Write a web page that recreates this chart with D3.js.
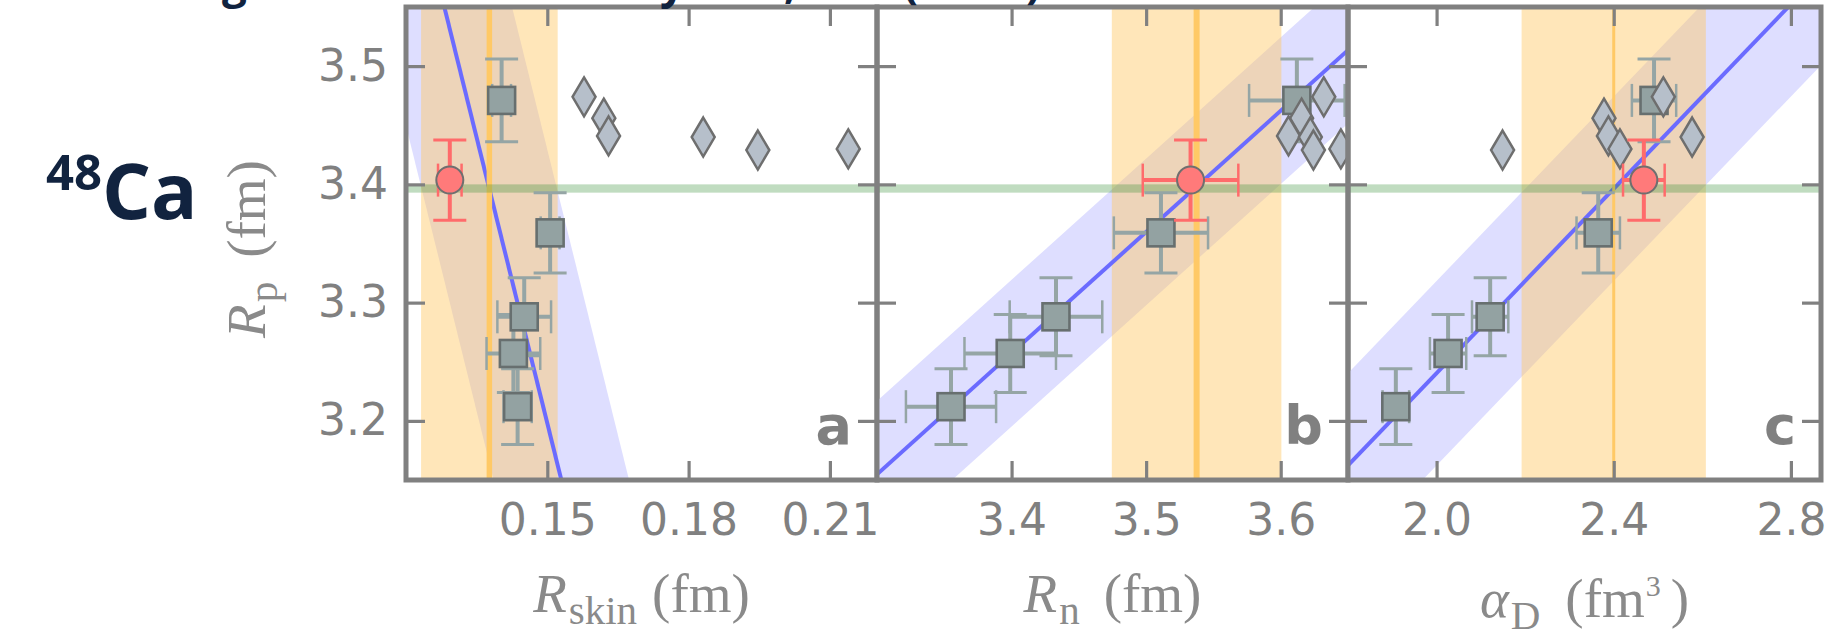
<!DOCTYPE html>
<html>
<head>
<meta charset="utf-8">
<script src="https://cdn.jsdelivr.net/npm/d3@7"></script>
<style>
  html, body { margin: 0; padding: 0; background: #ffffff; }
  svg { display: block; }
</style>
</head>
<body>
<svg id="chart" width="1839" height="639"></svg>
<script>
// ---------------- data ----------------
const rpTicks    = [3.2, 3.3, 3.4, 3.5];
const rskinTicks = [0.15, 0.18, 0.21];
const rnTicks    = [3.4, 3.5, 3.6];
const alphaTicks = [2.0, 2.4, 2.8];

// computations with uncertainty estimates (squares)
const sqRp       = [3.471, 3.359, 3.288, 3.257, 3.212];
const sqRpErr    = [0.035, 0.034, 0.033, 0.033, 0.032];
const sqRskin    = [0.1403, 0.1506, 0.1451, 0.1428, 0.1437];
const sqRskinErr = [0.002, 0.002, 0.0057, 0.0057, 0.003];
const sqRn       = [3.612, 3.511, 3.433, 3.399, 3.355];
const sqRnErr    = [0.0355, 0.035, 0.0344, 0.034, 0.0335];
const sqAlpha    = [2.491, 2.365, 2.121, 2.026, 1.908];
const sqAlphaErr = [0.050, 0.049, 0.041, 0.041, 0.030];

// density functional results (diamonds)
const dfRp    = [3.474, 3.456, 3.441, 3.440, 3.429, 3.430];
const dfRskin = [0.1578, 0.1620, 0.1630, 0.1831, 0.1947, 0.2139];
const dfRn    = [3.632, 3.6155, 3.6058, 3.622, 3.6243, 3.6447];
const dfAlpha = [2.512, 2.378, 2.388, 2.577, 2.149, 2.414];

// reference point (red circle)
const refRp = 3.4036, refRpErr = 0.034;
const refX    = [0.1293, 3.533, 2.468];   // Rskin, Rn, alphaD
const refXErr = [0.0025, 0.0355, 0.047];

// linear fits: y = y0 + slope * (x - x0), with band half-width in Rp
const fitSlope = [-16.1, 1.025, 0.39];
const fitX0    = [0.1283, 3.301, 1.8084];
const fitY0    = [3.5474, 3.1558, 3.1656];
const fitHalf  = [0.2314, 0.062, 0.078];

// predicted ranges (vertical bands) and central values
const predCenter = [0.1377, 3.5375, 2.400];
const predHalf   = [0.0145, 0.063, 0.208];

// experimental proton radius band
const rpBand = [3.393, 3.400];

const panelLetters = ["a", "b", "c"];

// ---------------- layout ----------------
const svg = d3.select("#chart");
const defs = svg.append("defs");
const yTop = 7, yBot = 480;
const y = d3.scaleLinear().domain([3.15, 3.55]).range([yBot, yTop]);

const panels = [
  { x: d3.scaleLinear().domain([0.12, 0.22]).range([406, 877]),  ticks: rskinTicks, fmt: d3.format(".2f"),
    sqX: sqRskin, sqXErr: sqRskinErr, dfX: dfRskin, lineW: 5.5 },
  { x: d3.scaleLinear().domain([3.30, 3.65]).range([877, 1348]), ticks: rnTicks, fmt: d3.format(".1f"),
    sqX: sqRn, sqXErr: sqRnErr, dfX: dfRn, lineW: 6 },
  { x: d3.scaleLinear().domain([1.80, 2.868]).range([1348, 1821]), ticks: alphaTicks, fmt: d3.format(".1f"),
    sqX: sqAlpha, sqXErr: sqAlphaErr, dfX: dfAlpha, lineW: 3 }
];

const FRAME = "#808080";
const TICKTXT = "#808080";
const LABEL = "#8a8a8a";
const CAP = 16.5;

function errV(g, cx, v, e, color, w) {
  g.append("line").attr("x1", cx).attr("x2", cx).attr("y1", y(v - e)).attr("y2", y(v + e))
    .attr("stroke", color).attr("stroke-width", w);
  [v - e, v + e].forEach(t => g.append("line")
    .attr("x1", cx - CAP).attr("x2", cx + CAP).attr("y1", y(t)).attr("y2", y(t))
    .attr("stroke", color).attr("stroke-width", 3));
}
function errH(g, xs, xv, e, yv, color, w) {
  const cy = y(yv);
  g.append("line").attr("x1", xs(xv - e)).attr("x2", xs(xv + e)).attr("y1", cy).attr("y2", cy)
    .attr("stroke", color).attr("stroke-width", w);
  [xv - e, xv + e].forEach(t => g.append("line")
    .attr("x1", xs(t)).attr("x2", xs(t)).attr("y1", cy - CAP).attr("y2", cy + CAP)
    .attr("stroke", color).attr("stroke-width", 2.5));
}

panels.forEach((p, i) => {
  const [x0, x1] = p.x.range();
  const clipId = "clip" + i;
  defs.append("clipPath").attr("id", clipId).append("rect")
    .attr("x", x0).attr("y", yTop).attr("width", x1 - x0).attr("height", yBot - yTop);

  const g = svg.append("g").attr("clip-path", `url(#${clipId})`);

  // regression band
  const dom = p.x.domain(), span = dom[1] - dom[0];
  const xa = dom[0] - span, xb = dom[1] + span;
  const f = v => fitY0[i] + fitSlope[i] * (v - fitX0[i]);
  const bandPts = [[xa, f(xa) + fitHalf[i]], [xb, f(xb) + fitHalf[i]],
                   [xb, f(xb) - fitHalf[i]], [xa, f(xa) - fitHalf[i]]];
  const line = d3.line().x(d => p.x(d[0])).y(d => y(d[1]));
  g.append("path").attr("d", line(bandPts) + "Z").attr("fill", "#dedeff");

  // predicted range
  g.append("rect")
    .attr("x", p.x(predCenter[i] - predHalf[i])).attr("y", yTop)
    .attr("width", p.x(predCenter[i] + predHalf[i]) - p.x(predCenter[i] - predHalf[i]))
    .attr("height", yBot - yTop)
    .attr("fill", "#ffc763").attr("fill-opacity", 0.45);

  // regression line
  g.append("path").attr("d", line([[xa, f(xa)], [xb, f(xb)]]))
    .attr("stroke", "#6b6bff").attr("stroke-width", 4).attr("fill", "none");

  // central predicted value
  g.append("line")
    .attr("x1", p.x(predCenter[i])).attr("x2", p.x(predCenter[i])).attr("y1", yTop).attr("y2", yBot)
    .attr("stroke", "#ffc966").attr("stroke-width", p.lineW);

  // experimental Rp band
  g.append("rect").attr("x", x0).attr("width", x1 - x0)
    .attr("y", y(rpBand[1])).attr("height", y(rpBand[0]) - y(rpBand[1]))
    .attr("fill", "#2e8b2e").attr("fill-opacity", 0.3);

  // squares with error bars
  sqRp.forEach((rp, k) => {
    errV(g, p.x(p.sqX[k]), rp, sqRpErr[k], "#95a5a5", 4);
    errH(g, p.x, p.sqX[k], p.sqXErr[k], rp, "#95a5a5", 4);
  });
  sqRp.forEach((rp, k) => {
    g.append("rect").attr("x", p.x(p.sqX[k]) - 13.5).attr("y", y(rp) - 13.5)
      .attr("width", 27).attr("height", 27)
      .attr("fill", "#93a2a2").attr("stroke", "#676f6f").attr("stroke-width", 2.6);
  });

  // diamonds
  dfRp.forEach((rp, k) => {
    g.append("path")
      .attr("transform", `translate(${p.x(p.dfX[k])},${y(rp)})`)
      .attr("d", "M0,-19.5L11.5,0L0,19.5L-11.5,0Z")
      .attr("fill", "#b6bfca").attr("stroke", "#6e6e6e").attr("stroke-width", 2.5)
      .attr("stroke-linejoin", "miter");
  });

  // reference point
  errV(g, p.x(refX[i]), refRp, refRpErr, "#ff6b6b", 4);
  errH(g, p.x, refX[i], refXErr[i], refRp, "#ff6b6b", 4);
  g.append("circle").attr("cx", p.x(refX[i])).attr("cy", y(refRp)).attr("r", 13.5)
    .attr("fill", "#ff7a7a").attr("stroke", "#6f6f6f").attr("stroke-width", 2);

  // axes (ticks pointing inward)
  const ax = svg.append("g").attr("class", "axes");
  const bottom = ax.append("g").attr("transform", `translate(0,${yBot})`)
    .call(d3.axisBottom(p.x).tickValues(p.ticks).tickFormat(p.fmt).tickSize(-19).tickSizeOuter(0).tickPadding(24));
  const top = ax.append("g").attr("transform", `translate(0,${yTop})`)
    .call(d3.axisTop(p.x).tickValues(p.ticks).tickFormat("").tickSize(-19).tickSizeOuter(0));
  const left = ax.append("g").attr("transform", `translate(${x0},0)`)
    .call(d3.axisLeft(y).tickValues(rpTicks).tickFormat(i === 0 ? d3.format(".1f") : "").tickSize(-19).tickSizeOuter(0).tickPadding(18));
  const right = ax.append("g").attr("transform", `translate(${x1},0)`)
    .call(d3.axisRight(y).tickValues(rpTicks).tickFormat("").tickSize(-19).tickSizeOuter(0));
  [bottom, top, left, right].forEach(a => {
    a.select(".domain").remove();
    a.selectAll(".tick line").attr("stroke", FRAME).attr("stroke-width", 3.2);
    a.selectAll(".tick text").attr("fill", TICKTXT)
      .style("font-family", "'DejaVu Sans', sans-serif").style("font-size", "44px");
  });

  // frame
  svg.append("rect").attr("x", x0).attr("y", yTop).attr("width", x1 - x0).attr("height", yBot - yTop)
    .attr("fill", "none").attr("stroke", FRAME).attr("stroke-width", 5);

  // panel letter
  svg.append("text").attr("x", x1 - 25).attr("y", 444).attr("text-anchor", "end")
    .attr("fill", "#808080").style("font-family", "'DejaVu Sans', sans-serif")
    .style("font-weight", "bold").style("font-size", "54px").text(panelLetters[i]);
});

// ---------------- axis titles ----------------
const serif = "'Liberation Serif', 'DejaVu Serif', serif";
// main symbol (italic), roman subscript, gap, unit, optional unit exponent
function mathLabel(sel, main, sub, gap, unit, sup, tail) {
  sel.attr("fill", LABEL).style("font-family", serif).style("font-size", "55px");
  sel.append("tspan").style("font-style", "italic").text(main);
  sel.append("tspan").attr("dx", 2).attr("dy", 12).style("font-size", "41px").text(sub);
  sel.append("tspan").attr("dx", gap).attr("dy", -12).text(unit);
  if (sup) {
    sel.append("tspan").attr("dx", 1).attr("dy", -21).style("font-size", "30px").text(sup);
    sel.append("tspan").attr("dx", 10).attr("dy", 21).text(tail);
  }
}
const pa = panels[0].x.range(), pb = panels[1].x.range(), pc = panels[2].x.range();
mathLabel(svg.append("text").attr("x", (pa[0] + pa[1]) / 2).attr("y", 612).attr("text-anchor", "middle"),
  "R", "skin", 15, "(fm)");
mathLabel(svg.append("text").attr("x", (pb[0] + pb[1]) / 2).attr("y", 612).attr("text-anchor", "middle"),
  "R", "n", 24, "(fm)");
mathLabel(svg.append("text").attr("x", (pc[0] + pc[1]) / 2).attr("y", 617).attr("text-anchor", "middle"),
  "\u03b1", "D", 25, "(fm", "3", ")");
mathLabel(svg.append("text").attr("transform", "translate(265,249) rotate(-90)").attr("text-anchor", "middle"),
  "R", "p", 24, "(fm)");

// ---------------- nucleus tag ----------------
const tag = svg.append("text").attr("x", 46).attr("y", 219)
  .attr("fill", "#11233f").style("font-family", "'Open Sans', 'Noto Sans', sans-serif").style("font-weight", "bold");
tag.append("tspan").attr("dy", -29).style("font-size", "49px").text("48");
tag.append("tspan").attr("dy", 29).style("font-size", "77px").text("Ca");

// ---------------- heading line above the figure (mostly outside the view) ----------------
const headGlyphs = ["g", "y", ",", "(", ")"];
const headX = [222, 660, 784, 903, 1026];
svg.append("g").selectAll("text").data(headGlyphs).join("text")
  .attr("x", (d, k) => headX[k]).attr("y", -2)
  .attr("fill", "#11233f").style("font-family", "'Open Sans', sans-serif")
  .style("font-weight", "bold").style("font-size", "44px").text(d => d);
</script>
</body>
</html>
